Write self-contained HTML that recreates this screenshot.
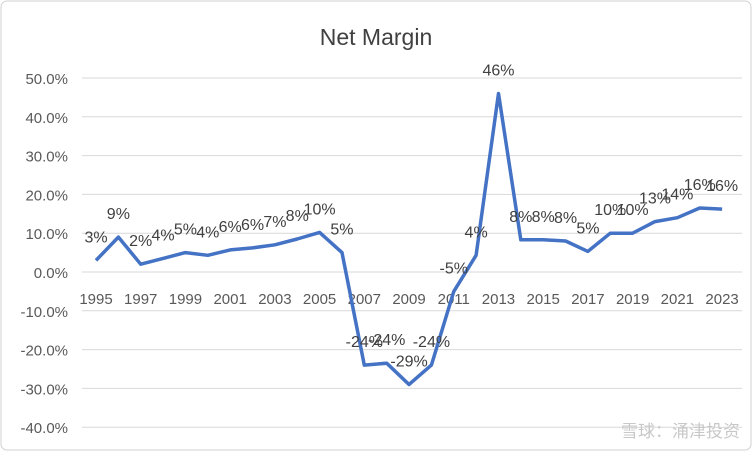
<!DOCTYPE html>
<html><head><meta charset="utf-8"><style>
body{margin:0;background:#fff;}
svg{display:block;font-family:"Liberation Sans","Noto Sans CJK SC",sans-serif;}
</style></head><body>
<svg id="chart" width="752" height="451">
<rect x="1" y="1" width="750" height="449" rx="6" fill="#fff" stroke="#d0d0d0"/>
<text x="376" y="45" text-anchor="middle" font-size="23" fill="#404040">Net Margin</text>
<g id="grid"></g><g id="yticks"></g><g id="xticks"></g><g id="series"></g><g id="labels"></g>
<text x="740" y="437" text-anchor="end" font-size="17" fill="#c8c8c8">雪球：涌津投资</text>
</svg>
<script>
const years=[1995,1996,1997,1998,1999,2000,2001,2002,2003,2004,2005,2006,2007,2008,2009,2010,2011,2012,2013,2014,2015,2016,2017,2018,2019,2020,2021,2022,2023];
const values=[3,9,2,3.5,5,4.3,5.7,6.2,7,8.5,10.2,5,-24,-23.5,-29,-24,-5,4.3,46,8.3,8.3,8,5.3,10,10,13,14,16.5,16.2];
const valueLabels=["3%","9%","2%","4%","5%","4%","6%","6%","7%","8%","10%","5%","-24%","-24%","-29%","-24%","-5%","4%","46%","8%","8%","8%","5%","10%","10%","13%","14%","16%","16%"];
const yTicks=[50,40,30,20,10,0,-10,-20,-30,-40];
const yTickLabels=["50.0%","40.0%","30.0%","20.0%","10.0%","0.0%","-10.0%","-20.0%","-30.0%","-40.0%"];
const xTickLabels=["1995","1997","1999","2001","2003","2005","2007","2009","2011","2013","2015","2017","2019","2021","2023"];
const NS="http://www.w3.org/2000/svg";
function y(v){return 272-v*3.88;}
function x(yr){return 96+(yr-1995)*22.36;}
function mk(t,a,p,txt){const e=document.createElementNS(NS,t);for(const k in a)e.setAttribute(k,a[k]);if(txt!=null)e.textContent=txt;document.getElementById(p).appendChild(e);return e;}
yTicks.forEach((v,i)=>{
 const l=mk('line',{x1:82,x2:742,y1:y(v),y2:y(v),stroke:'#d9d9d9','stroke-width':1},'grid');
 
 
 const t=mk('text',{x:68,y:y(v)+6,'text-anchor':'end','font-size':15,fill:'#595959'},'yticks',yTickLabels[i]);
 
 
});
xTickLabels.forEach(s=>{
 const t=mk('text',{x:x(+s),y:304,'text-anchor':'middle','font-size':15,fill:'#595959'},'xticks',s);
 
 
});
const pts=years.map((yr,i)=>x(yr).toFixed(1)+','+y(values[i]).toFixed(1)).join(' ');
const pl=mk('polyline',{points:pts,fill:'none',stroke:'#4472C4','stroke-width':3.5,'stroke-linejoin':'round'},'series');


years.forEach((yr,i)=>{
 const t=mk('text',{x:x(yr),y:y(values[i])-18,'text-anchor':'middle','font-size':16,fill:'#404040'},'labels',valueLabels[i]);
 
 
});
</script>
</body></html>
